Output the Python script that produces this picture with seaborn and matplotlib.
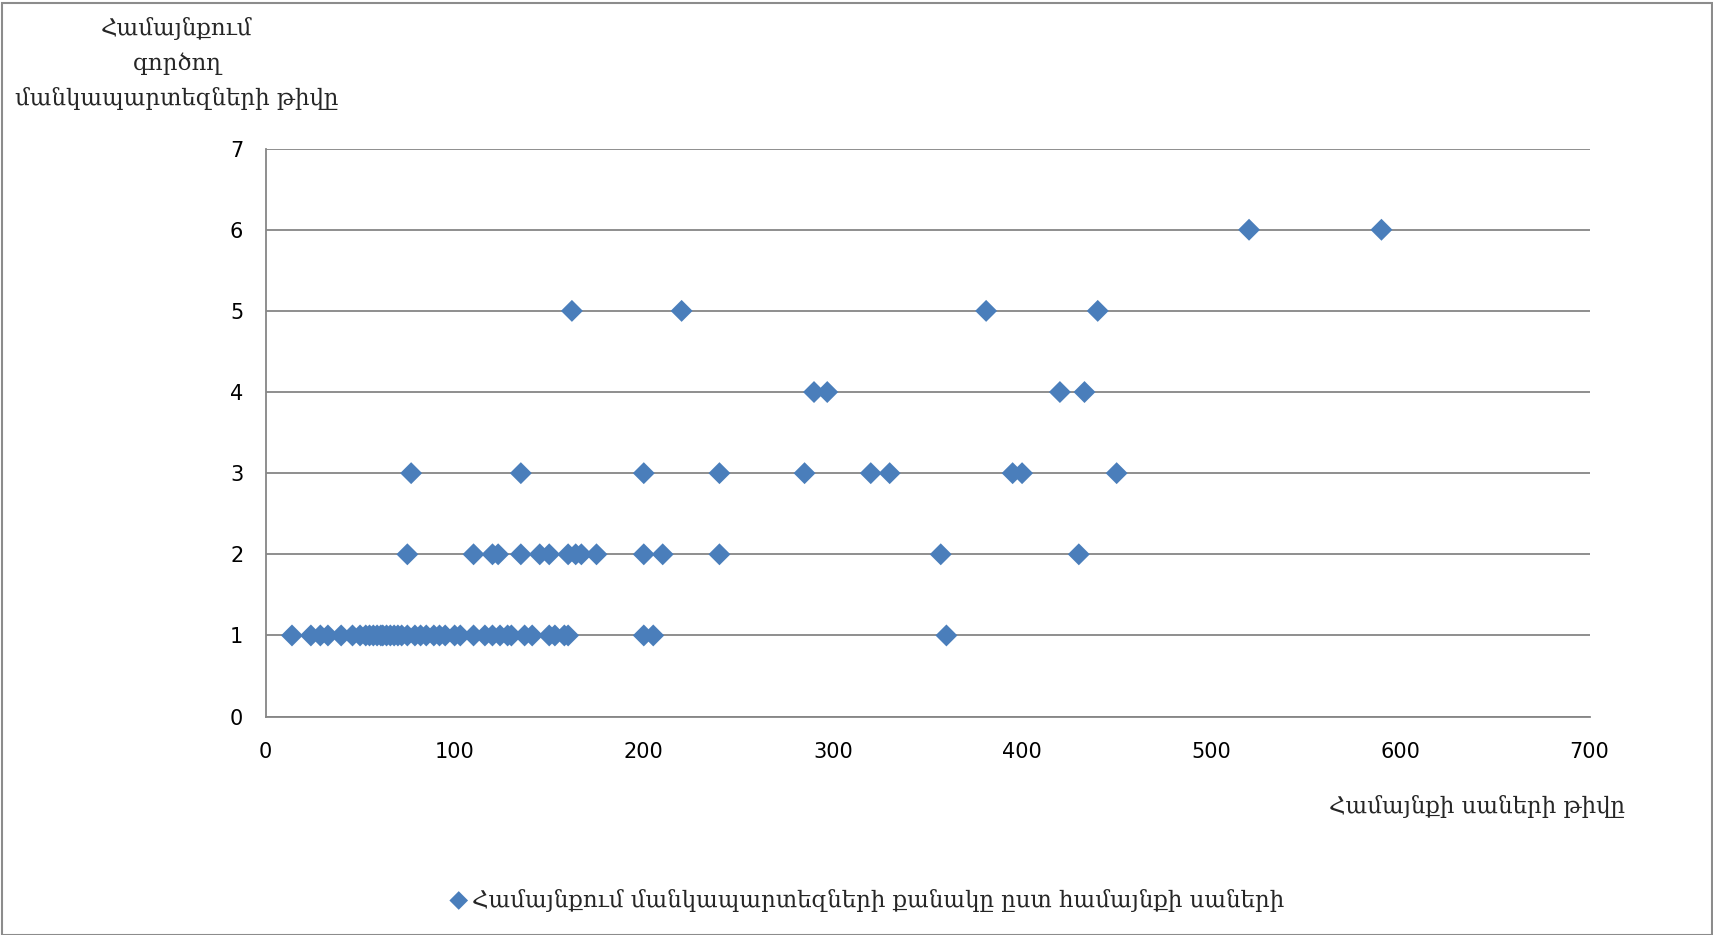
import matplotlib
matplotlib.use("Agg")
import matplotlib.pyplot as plt
import seaborn as sns
import pandas as pd
from matplotlib.patches import Rectangle

# Population (x) of communities, grouped by number of kindergartens (y)
x_k1 = [14, 24, 29, 33, 40, 46, 50, 53, 55, 57, 59, 61, 62, 64, 66, 68, 70, 72,
        75, 79, 82, 85, 89, 92, 95, 100, 103, 110, 116, 120, 124, 128, 130,
        137, 141, 150, 153, 158, 160, 200, 205, 360]
x_k2 = [75, 110, 120, 123, 135, 145, 150, 160, 164, 167, 175, 200, 210, 240, 357, 430]
x_k3 = [77, 135, 200, 240, 285, 320, 330, 395, 400, 450]
x_k4 = [290, 297, 420, 433]
x_k5 = [162, 220, 381, 440]
x_k6 = [520, 590]

x_ticks = [0, 100, 200, 300, 400, 500, 600, 700]
y_ticks = [0, 1, 2, 3, 4, 5, 6, 7]

y_title = "Համայնքում\nգործող\nմանկապարտեզների թիվը"
x_title = "Համայնքի սաների թիվը"
series_name = "Համայնքում մանկապարտեզների քանակը ըստ համայնքի սաների"

groups = [(1, x_k1), (2, x_k2), (3, x_k3), (4, x_k4), (5, x_k5), (6, x_k6)]
df = pd.DataFrame({
    "x": [v for _, xs in groups for v in xs],
    "y": [k for k, xs in groups for _ in xs],
})

sns.set_theme(style="white")
plt.rcParams["font.family"] = ["DejaVu Sans"]

W, H = 1713, 935
fig = plt.figure(figsize=(W / 100, H / 100), dpi=100)
ax = fig.add_axes([265.5 / W, 1 - 716.6 / H, (1589.5 - 265.5) / W, (716.6 - 148.6) / H])

grid_c = "#868686"
sns.scatterplot(data=df, x="x", y="y", marker="D", s=125, color="#4a7ebb",
                edgecolor="none", linewidth=0, ax=ax, zorder=3, label=series_name)

ax.set_xlim(0, 700)
ax.set_ylim(0, 7)
ax.set_xticks(x_ticks)
ax.set_yticks(y_ticks)
ax.yaxis.grid(True, color=grid_c, linewidth=1.3)
ax.set_axisbelow(True)
for s in ["top", "right"]:
    ax.spines[s].set_visible(False)
for s in ["left", "bottom"]:
    ax.spines[s].set_color(grid_c)
    ax.spines[s].set_linewidth(1.3)
ax.tick_params(axis="both", which="major", direction="out", length=7, width=1.3,
               color=grid_c, labelsize=15, labelcolor="black")
ax.tick_params(axis="x", pad=11)
ax.tick_params(axis="y", pad=9)
ax.set_xlabel("")
ax.set_ylabel("")
ax.legend_.remove()

serif = ["DejaVu Serif", "DejaVu Sans"]
fig.text(177 / W, 1 - 17 / H, y_title, ha="center", va="top", fontsize=16.5,
         family=serif, linespacing=1.68)
fig.text(1625 / W, 1 - 807 / H, x_title, ha="right", va="center", fontsize=16.5,
         family=serif)

handles, _ = ax.get_legend_handles_labels()
fig.legend(handles, [series_name], loc="center", bbox_to_anchor=(866 / W, 1 - 900 / H),
           frameon=False, prop={"family": serif, "size": 16.5}, handletextpad=0.1,
           handlelength=1.0, markerscale=0.85)

fig.patches.append(Rectangle((1.5 / W, 0), 1 - 3 / W, 1 - 3 / H, transform=fig.transFigure,
                             fill=False, edgecolor="#8c8c8c", linewidth=1.5))

fig.savefig("out.png", dpi=100)
